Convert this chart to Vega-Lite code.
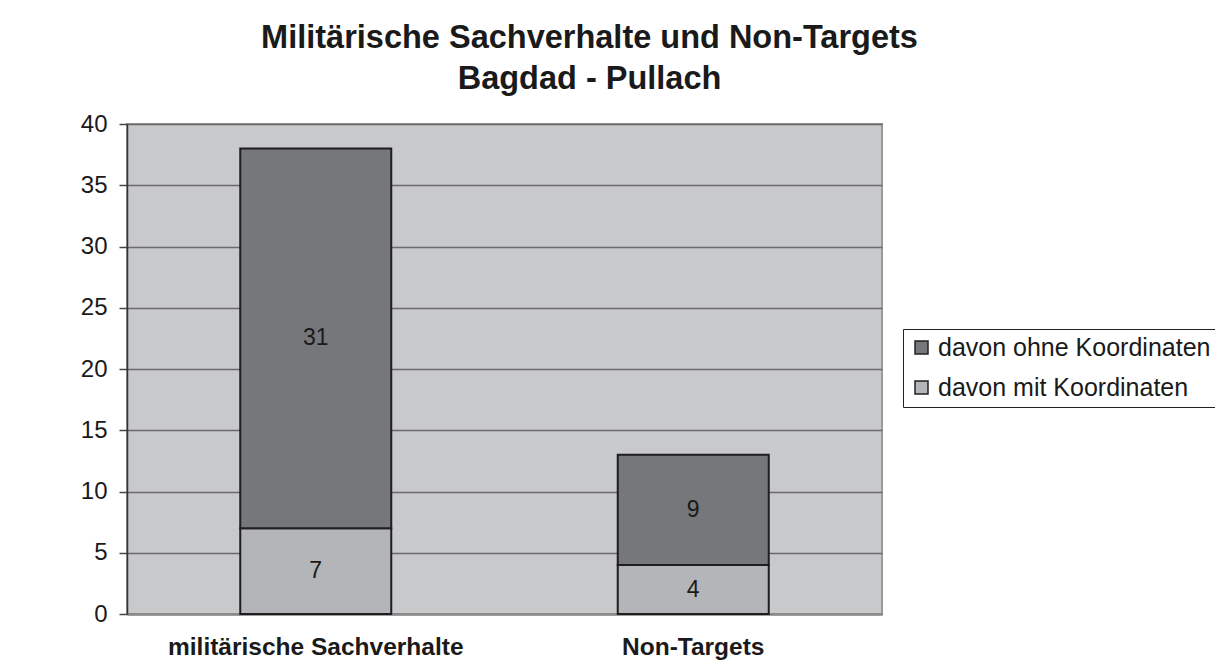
{
  "$schema": "https://vega.github.io/schema/vega-lite/v6.json",
  "width": 755,
  "height": 490,
  "autosize": {"type": "none"},
  "padding": {"left": 127, "top": 124, "right": 333, "bottom": 55},
  "background": "white",
  "title": {
    "text": ["Militärische Sachverhalte und Non-Targets", "Bagdad - Pullach"],
    "font": "Liberation Sans",
    "fontSize": 32.5,
    "fontWeight": "bold",
    "color": "#1a1a1a",
    "lineHeight": 41,
    "anchor": "middle",
    "frame": "group",
    "dx": 85,
    "offset": 17
  },
  "data": {
    "values": [
      {"cat": "militärische Sachverhalte", "series": "davon mit Koordinaten", "count": 7, "ord": 1},
      {"cat": "militärische Sachverhalte", "series": "davon ohne Koordinaten", "count": 31, "ord": 2},
      {"cat": "Non-Targets", "series": "davon mit Koordinaten", "count": 4, "ord": 1},
      {"cat": "Non-Targets", "series": "davon ohne Koordinaten", "count": 9, "ord": 2}
    ]
  },
  "layer": [
    {
      "mark": {"type": "bar", "stroke": "#1e1e1e", "strokeWidth": 2},
      "encoding": {
        "x": {
          "field": "cat", "type": "nominal", "sort": null,
          "scale": {"paddingInner": 0.6, "paddingOuter": 0.3},
          "axis": {
            "title": null, "labelAngle": 0, "ticks": false,
            "labelFont": "Liberation Sans", "labelFontSize": 24.5, "labelFontWeight": "bold",
            "labelColor": "#1a1a1a", "labelPadding": 21, "labelLimit": 600,
            "domainColor": "#8a8a8a", "domainWidth": 2.5
          }
        },
        "y": {
          "field": "count", "type": "quantitative", "stack": "zero",
          "scale": {"domain": [0, 40], "nice": false},
          "axis": {
            "title": null, "values": [0, 5, 10, 15, 20, 25, 30, 35, 40],
            "labelFont": "Liberation Sans", "labelFontSize": 24, "labelColor": "#1a1a1a",
            "labelPadding": 12, "tickSize": 8, "tickColor": "#444", "tickWidth": 1.5,
            "domainColor": "#333", "domainWidth": 1.5,
            "grid": true, "gridColor": "#6a6a6a", "gridWidth": 1.5
          }
        },
        "color": {
          "field": "series", "type": "nominal",
          "scale": {"domain": ["davon ohne Koordinaten", "davon mit Koordinaten"], "range": ["#76777a", "#b4b5b8"]},
          "legend": {
            "title": null, "orient": "none", "legendX": 776, "legendY": 205,
            "labelFont": "Liberation Sans", "labelFontSize": 25, "labelColor": "#1a1a1a",
            "symbolType": "square", "symbolSize": 169, "symbolStrokeColor": "#222", "symbolStrokeWidth": 1.5,
            "symbolOpacity": 1,
            "strokeColor": "#222", "padding": 6, "rowPadding": 14, "labelOffset": 4,
            "labelLimit": 400
          }
        },
        "order": {"field": "ord", "type": "quantitative"}
      }
    },
    {
      "transform": [
        {"stack": "count", "groupby": ["cat"], "sort": [{"field": "ord"}], "as": ["v0", "v1"]},
        {"fold": ["v0", "v1"], "as": ["k", "pos"]}
      ],
      "mark": {"type": "text", "font": "Liberation Sans", "fontSize": 23, "color": "#1a1a1a", "baseline": "middle"},
      "encoding": {
        "x": {"field": "cat", "type": "nominal", "sort": null},
        "y": {"aggregate": "mean", "field": "pos", "type": "quantitative"},
        "detail": {"field": "series", "type": "nominal"},
        "text": {"aggregate": "max", "field": "count", "type": "quantitative"}
      }
    }
  ],
  "config": {
    "view": {"fill": "#c8c9cb", "stroke": "#9a9a9a", "strokeWidth": 2}
  }
}
